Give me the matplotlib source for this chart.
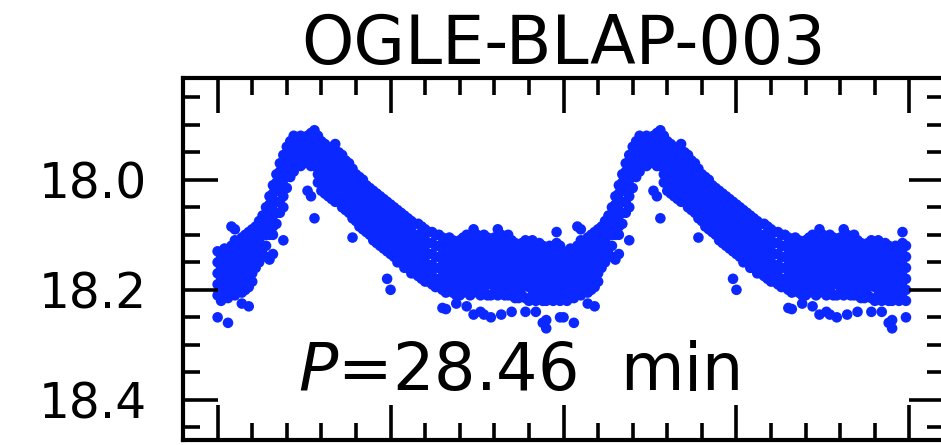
import matplotlib
matplotlib.use("Agg")
import matplotlib.pyplot as plt
import numpy as np
from matplotlib.ticker import MultipleLocator

# phased light curve of OGLE-BLAP-003, one cycle
# (phase bins of 0.01, several magnitudes per bin), drawn twice
phase_bins = [0.00, 0.01, 0.02, 0.03, 0.04, 0.05, 0.06, 0.07, 0.08, 0.09,
              0.10, 0.11, 0.12, 0.13, 0.14, 0.15, 0.16, 0.17, 0.18, 0.19,
              0.20, 0.21, 0.22, 0.23, 0.24, 0.25, 0.26, 0.27, 0.28, 0.29,
              0.30, 0.31, 0.32, 0.33, 0.34, 0.35, 0.36, 0.37, 0.38, 0.39,
              0.40, 0.41, 0.42, 0.43, 0.44, 0.45, 0.46, 0.47, 0.48, 0.49,
              0.50, 0.51, 0.52, 0.53, 0.54, 0.55, 0.56, 0.57, 0.58, 0.59,
              0.60, 0.61, 0.62, 0.63, 0.64, 0.65, 0.66, 0.67, 0.68, 0.69,
              0.70, 0.71, 0.72, 0.73, 0.74, 0.75, 0.76, 0.77, 0.78, 0.79,
              0.80, 0.81, 0.82, 0.83, 0.84, 0.85, 0.86, 0.87, 0.88, 0.89,
              0.90, 0.91, 0.92, 0.93, 0.94, 0.95, 0.96, 0.97, 0.98, 0.99]

mag_bins = [
    [18.13, 18.15, 18.17, 18.19, 18.21, 18.25],
    [18.14, 18.16, 18.18, 18.20, 18.22],
    [18.125, 18.145, 18.165, 18.185, 18.205],
    [18.13, 18.155, 18.175, 18.195, 18.215, 18.26],
    [18.12, 18.14, 18.16, 18.18, 18.20, 18.085],
    [18.11, 18.13, 18.15, 18.17, 18.19, 18.21, 18.09],
    [18.12, 18.14, 18.16, 18.18, 18.20],
    [18.105, 18.125, 18.145, 18.165, 18.185, 18.205, 18.225],
    [18.10, 18.12, 18.14, 18.16, 18.18, 18.20],
    [18.095, 18.115, 18.135, 18.155, 18.175, 18.195, 18.23],
    [18.09, 18.11, 18.13, 18.15, 18.17, 18.185],
    [18.085, 18.10, 18.12, 18.14, 18.16],
    [18.075, 18.09, 18.11, 18.13, 18.15],
    [18.065, 18.08, 18.10, 18.12, 18.135],
    [18.05, 18.065, 18.085, 18.10, 18.12, 18.14],
    [18.03, 18.045, 18.06, 18.08, 18.10, 18.145],
    [18.01, 18.025, 18.045, 18.065, 18.085, 18.10, 18.135],
    [17.99, 18.005, 18.02, 18.04, 18.06, 18.08],
    [17.97, 17.985, 18.00, 18.02, 18.04, 18.06],
    [17.955, 17.97, 17.99, 18.01, 18.03, 18.05, 18.11],
    [17.94, 17.955, 17.975, 17.995, 18.015],
    [17.93, 17.945, 17.96, 17.98, 17.995],
    [17.92, 17.935, 17.95, 17.965, 17.985],
    [17.925, 17.94, 17.955, 17.97],
    [17.92, 17.935, 17.95, 17.965, 17.975],
    [17.925, 17.94, 17.955, 17.97],
    [17.92, 17.935, 17.95, 17.965, 18.02],
    [17.915, 17.93, 17.945, 17.96, 17.975, 18.03],
    [17.91, 17.925, 17.94, 17.955, 17.975, 18.07],
    [17.92, 17.935, 17.95, 17.97, 17.99, 18.005],
    [17.93, 17.945, 17.965, 17.985, 18.00, 18.02],
    [17.935, 17.955, 17.975, 17.99, 18.01, 18.025],
    [17.94, 17.96, 17.98, 17.995, 18.015, 18.03],
    [17.945, 17.965, 17.985, 18.005, 18.02, 18.035],
    [17.935, 17.955, 17.975, 17.99, 18.01, 18.025, 18.04],
    [17.95, 17.965, 17.985, 18.00, 18.02, 18.04],
    [17.955, 17.975, 17.995, 18.01, 18.03, 18.05],
    [17.965, 17.985, 18.00, 18.02, 18.04, 18.055],
    [17.97, 17.99, 18.01, 18.025, 18.045, 18.06],
    [17.98, 17.995, 18.015, 18.035, 18.05, 18.07, 18.105],
    [17.99, 18.005, 18.025, 18.04, 18.06, 18.075],
    [17.995, 18.015, 18.03, 18.05, 18.065, 18.085],
    [18.00, 18.02, 18.04, 18.055, 18.075, 18.09],
    [18.01, 18.025, 18.045, 18.06, 18.08, 18.095],
    [18.015, 18.03, 18.05, 18.07, 18.085, 18.10],
    [18.02, 18.04, 18.055, 18.075, 18.09, 18.11],
    [18.025, 18.045, 18.06, 18.08, 18.095, 18.115],
    [18.03, 18.05, 18.065, 18.085, 18.10, 18.12],
    [18.035, 18.055, 18.07, 18.09, 18.11, 18.125],
    [18.04, 18.06, 18.075, 18.095, 18.115, 18.13, 18.18],
    [18.045, 18.065, 18.08, 18.10, 18.12, 18.135, 18.20],
    [18.05, 18.07, 18.085, 18.105, 18.125, 18.14],
    [18.055, 18.075, 18.09, 18.11, 18.13, 18.15],
    [18.06, 18.08, 18.095, 18.115, 18.135, 18.15],
    [18.065, 18.085, 18.10, 18.12, 18.14, 18.16],
    [18.07, 18.09, 18.105, 18.125, 18.145, 18.16],
    [18.075, 18.095, 18.11, 18.13, 18.15, 18.17],
    [18.08, 18.10, 18.115, 18.135, 18.155, 18.17],
    [18.08, 18.10, 18.12, 18.14, 18.16, 18.175],
    [18.085, 18.105, 18.125, 18.145, 18.165, 18.18],
    [18.09, 18.11, 18.13, 18.15, 18.165, 18.185],
    [18.095, 18.115, 18.135, 18.155, 18.17, 18.185],
    [18.095, 18.115, 18.135, 18.155, 18.175, 18.19],
    [18.10, 18.12, 18.14, 18.16, 18.18, 18.195],
    [18.10, 18.12, 18.14, 18.16, 18.18, 18.195],
    [18.105, 18.125, 18.145, 18.165, 18.185, 18.20, 18.233],
    [18.11, 18.13, 18.15, 18.17, 18.19, 18.205, 18.235],
    [18.105, 18.125, 18.145, 18.165, 18.185, 18.20],
    [18.11, 18.13, 18.15, 18.17, 18.19, 18.205],
    [18.115, 18.135, 18.155, 18.175, 18.195, 18.21, 18.225],
    [18.11, 18.13, 18.15, 18.17, 18.19, 18.21],
    [18.105, 18.125, 18.145, 18.165, 18.185, 18.205],
    [18.10, 18.12, 18.14, 18.16, 18.18, 18.20, 18.23],
    [18.105, 18.125, 18.145, 18.165, 18.185, 18.21],
    [18.09, 18.11, 18.13, 18.15, 18.17, 18.19, 18.205, 18.245],
    [18.10, 18.12, 18.14, 18.16, 18.18, 18.20],
    [18.105, 18.125, 18.145, 18.165, 18.185, 18.21, 18.24],
    [18.10, 18.12, 18.14, 18.16, 18.18, 18.20, 18.245],
    [18.105, 18.125, 18.145, 18.165, 18.185, 18.21],
    [18.11, 18.13, 18.15, 18.17, 18.19, 18.21, 18.25],
    [18.105, 18.125, 18.145, 18.165, 18.185, 18.205],
    [18.09, 18.11, 18.13, 18.15, 18.17, 18.19, 18.21],
    [18.10, 18.12, 18.14, 18.16, 18.18, 18.20, 18.245],
    [18.105, 18.125, 18.145, 18.165, 18.185, 18.21],
    [18.10, 18.115, 18.135, 18.155, 18.175, 18.195, 18.21],
    [18.11, 18.13, 18.15, 18.17, 18.19, 18.21, 18.24],
    [18.115, 18.135, 18.155, 18.175, 18.195, 18.215],
    [18.12, 18.14, 18.16, 18.18, 18.20, 18.215],
    [18.115, 18.135, 18.155, 18.175, 18.195, 18.21],
    [18.11, 18.13, 18.15, 18.17, 18.19, 18.215, 18.24],
    [18.115, 18.135, 18.155, 18.175, 18.195, 18.22],
    [18.11, 18.13, 18.15, 18.17, 18.19, 18.21],
    [18.12, 18.14, 18.16, 18.18, 18.20, 18.22, 18.24],
    [18.115, 18.135, 18.155, 18.175, 18.195, 18.215],
    [18.12, 18.14, 18.16, 18.18, 18.20, 18.22, 18.26],
    [18.125, 18.145, 18.165, 18.185, 18.205, 18.22, 18.255, 18.27],
    [18.12, 18.14, 18.16, 18.18, 18.20, 18.215],
    [18.125, 18.145, 18.165, 18.185, 18.205, 18.22],
    [18.095, 18.115, 18.135, 18.155, 18.175, 18.195, 18.215],
    [18.12, 18.14, 18.16, 18.18, 18.20, 18.22, 18.25],
]

title = "OGLE-BLAP-003"
period_label = r"$P$=28.46  min"

phase = []
mag = []
for p, ms in zip(phase_bins, mag_bins):
    for m in ms:
        phase.append(p)
        mag.append(m)
phase = np.array(phase)
mag = np.array(mag)

plt.rcParams['font.family'] = 'DejaVu Sans'
plt.rcParams['mathtext.fontset'] = 'dejavusans'

fig = plt.figure(figsize=(9.41, 4.45), dpi=100)
ax = fig.add_axes([0.1945, 0.0112, 0.8087, 0.8135])

# two cycles
for cyc in (0, 1):
    ax.scatter(phase + cyc, mag, s=58, color='#0a28ff', edgecolors='none')

ax.set_xlim(-0.1, 2.1)
ax.set_ylim(18.473, 17.815)

ax.xaxis.set_major_locator(MultipleLocator(0.5))
ax.xaxis.set_minor_locator(MultipleLocator(0.1))
ax.yaxis.set_major_locator(MultipleLocator(0.2))
ax.yaxis.set_minor_locator(MultipleLocator(0.05))
ax.yaxis.set_major_formatter(matplotlib.ticker.FormatStrFormatter('%.1f'))

ax.tick_params(which='both', direction='in', top=True, right=True,
               labelbottom=False, width=2.6, color='black')
ax.tick_params(which='major', length=25)
ax.tick_params(which='minor', length=12.5)
ax.tick_params(axis='y', labelsize=35, pad=26)
for sp in ax.spines.values():
    sp.set_linewidth(3.0)

ax.set_title(title, fontsize=48, pad=9)
ax.text(0.2325, 18.382, period_label, fontsize=47, ha='left', va='baseline')

fig.savefig('out.png', dpi=100)
